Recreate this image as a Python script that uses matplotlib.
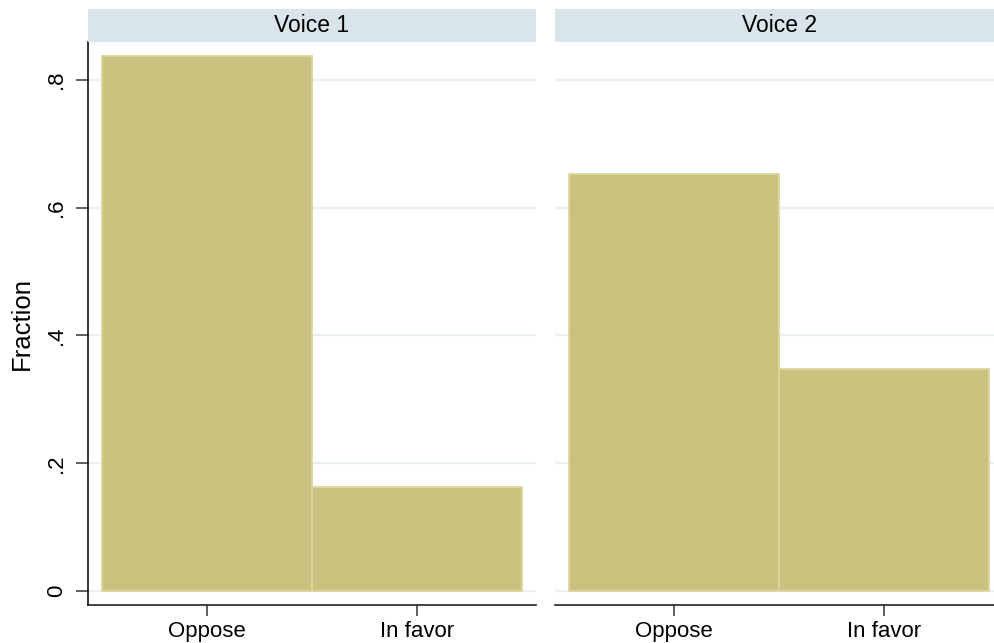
import matplotlib
matplotlib.use("Agg")
import matplotlib.pyplot as plt
import numpy as np

plt.rcParams['font.family'] = ['Liberation Sans', 'DejaVu Sans']

categories = ['Oppose', 'In favor']
panels = ['Voice 1', 'Voice 2']
voice1 = [0.837, 0.163]
voice2 = [0.652, 0.348]
series = [voice1, voice2]
yticks = [0, 0.2, 0.4, 0.6, 0.8]
ytick_labels = ['0', '.2', '.4', '.6', '.8']

W, H = 994, 643
fig = plt.figure(figsize=(W / 100, H / 100), dpi=100)
fig.patch.set_facecolor('white')

bar_face = '#cbc280'
bar_edge = '#dcd6a0'
grid_col = '#e9f0f2'
strip_col = '#d9e5eb'

ax_w = 448 / W
ax_bottom = 1 - 605 / H
ax_h = (605 - 42) / H
lefts = [88 / W, 555 / W]

x = np.arange(len(categories))
for i, (name, vals) in enumerate(zip(panels, series)):
    ax = fig.add_axes([lefts[i], ax_bottom, ax_w, ax_h])
    ax.bar(x, vals, width=1.0, color=bar_face, edgecolor=bar_edge,
           linewidth=1.3, zorder=3)
    ax.set_xlim(-0.565, 1.568)
    ax.set_ylim(-0.0215, 0.859)
    ax.set_yticks(yticks)
    for yv in yticks:
        ax.axhline(yv, color=grid_col, linewidth=1.6, zorder=1)
    ax.set_xticks(x)
    ax.set_xticklabels(categories, fontsize=16)
    ax.tick_params(axis='x', length=8, width=1.2, color='#444444', pad=3.5)
    for s in ['top', 'right']:
        ax.spines[s].set_visible(False)
    ax.spines['bottom'].set_color('#222222')
    ax.spines['bottom'].set_linewidth(1.2)
    if i == 0:
        ax.set_yticklabels(ytick_labels, fontsize=16, rotation=90, va='center')
        ax.tick_params(axis='y', length=9, width=1.2, color='#444444', pad=6)
        ax.spines['left'].set_color('#111111')
        ax.spines['left'].set_linewidth(1.2)
        ax.set_ylabel('Fraction', fontsize=18.5, labelpad=9)
    else:
        ax.spines['left'].set_visible(False)
        ax.tick_params(axis='y', length=0, labelleft=False)
    # panel strip
    sax = fig.add_axes([lefts[i], 1 - 42 / H, ax_w, 33 / H])
    sax.set_facecolor(strip_col)
    sax.set_xticks([])
    sax.set_yticks([])
    for s in sax.spines.values():
        s.set_visible(False)
    sax.text(0.5, 0.5, name, fontsize=16.5, ha='center',
             va='center', transform=sax.transAxes)

fig.savefig('out.png', dpi=100)
